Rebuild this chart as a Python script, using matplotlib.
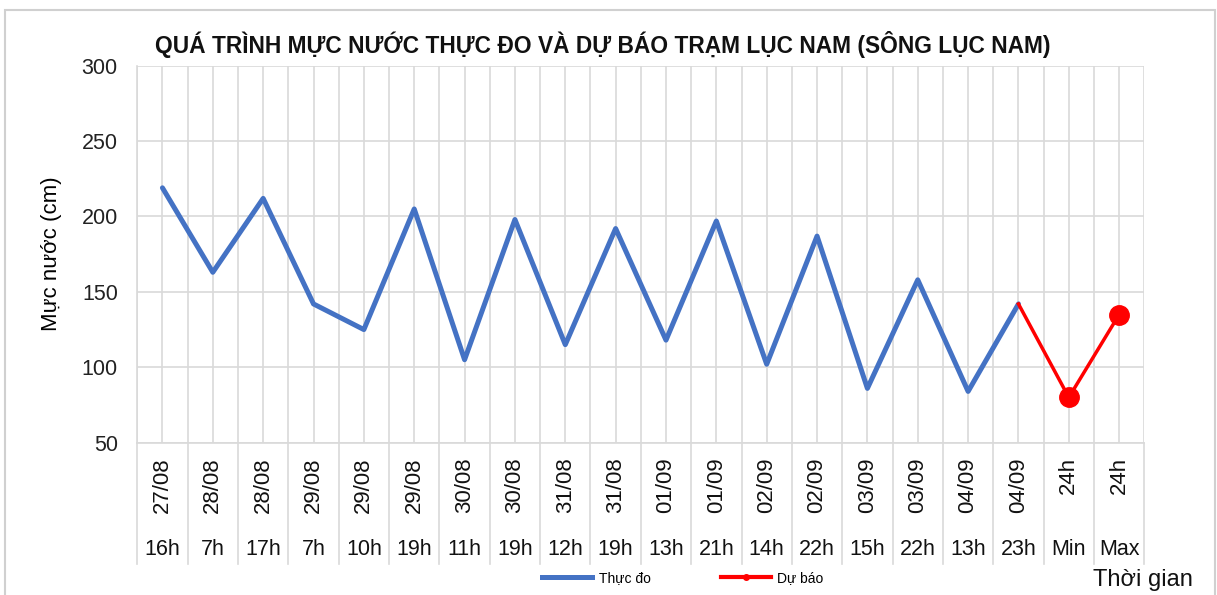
import matplotlib.pyplot as plt
from matplotlib.lines import Line2D
from matplotlib.patches import Rectangle
import numpy as np

# ---- data ----
dates = ["27/08", "28/08", "28/08", "29/08", "29/08", "29/08", "30/08", "30/08",
         "31/08", "31/08", "01/09", "01/09", "02/09", "02/09", "03/09", "03/09",
         "04/09", "04/09", "24h", "24h"]
hours = ["16h", "7h", "17h", "7h", "10h", "19h", "11h", "19h", "12h", "19h",
         "13h", "21h", "14h", "22h", "15h", "22h", "13h", "23h", "Min", "Max"]
observed = [219, 163, 212, 142, 125, 205, 105, 198, 115, 192,
            118, 197, 102, 187, 86, 158, 84, 142]
forecast = [142, 80, 135]          # from 04/09 23h, then Min, Max

BLUE = "#4472C4"
RED = "#FF0000"
GRID = "#d9d9d9"
FONT = ["Liberation Sans", "DejaVu Sans"]

plt.rcParams["font.family"] = FONT

fig = plt.figure(figsize=(12.17, 5.95), dpi=100)
ax = fig.add_axes([0.1128, 0.2560, 0.8275, 0.6336])

# chart frame (grey border of the embedded chart)
fig.patches.append(Rectangle((5 / 1217, -0.05), 1210 / 1217, 1 - 10 / 595 + 0.05,
                             transform=fig.transFigure, fill=False,
                             edgecolor="#d0d0d0", lw=1.5))

n = len(hours)
x = np.arange(n)
ax.plot(x[:len(observed)], observed, color=BLUE, lw=3.6, solid_capstyle="round",
        solid_joinstyle="round", zorder=3)
xf = x[len(observed) - 1:len(observed) - 1 + len(forecast)]
ax.plot(xf, forecast, color=RED, lw=2.5, marker="o", markersize=14,
        markevery=[1, 2], zorder=4)

ax.set_xlim(-0.5, n - 0.5)
ax.set_ylim(50, 300)
ax.set_yticks(np.arange(50, 301, 50))
ax.set_xticks(x)
ax.set_xticks(np.arange(-0.5, n, 1.0), minor=True)
ax.grid(True, which="both", axis="x", color=GRID, lw=1.2)
ax.grid(True, which="major", axis="y", color=GRID, lw=1.2)
ax.set_axisbelow(True)
ax.tick_params(axis="x", which="both", length=0, labelbottom=False)
ax.tick_params(axis="y", length=0, labelsize=15.5, pad=14, colors="#222222")
for s in ["top", "right"]:
    ax.spines[s].set_visible(False)
for s in ["left", "bottom"]:
    ax.spines[s].set_color(GRID)
    ax.spines[s].set_linewidth(1.2)

# two-level category labels below the axis
trans = ax.get_xaxis_transform()
for b in np.arange(-0.5, n, 1.0):
    ax.plot([b, b], [0, -0.321], transform=trans, color=GRID, lw=1.2, clip_on=False)
for i in range(n):
    ax.text(i, -0.038, dates[i], transform=trans, rotation=90, ha="center",
            va="top", fontsize=16, color="#111111")
    ax.text(i, -0.284, hours[i], transform=trans, ha="center", va="center",
            fontsize=15.5, color="#111111")

ax.set_ylabel("Mực nước (cm)", fontsize=16)
ax.yaxis.set_label_coords(-0.075, 0.5)

fig.text(0.495, 1 - 45 / 595, "QUÁ TRÌNH MỰC NƯỚC THỰC ĐO VÀ DỰ BÁO TRẠM LỤC NAM (SÔNG LỤC NAM)",
         ha="center", va="center", fontsize=16.4, fontweight="bold", color="#111111")
fig.text(1143 / 1217, 1 - 580 / 595, "Thời gian", ha="center", va="center",
         fontsize=17, color="#111111")

handles = [Line2D([], [], color=BLUE, lw=3.6),
           Line2D([], [], color=RED, lw=3.0, marker="o", markersize=4)]
fig.legend(handles, ["Thực đo", "Dự báo"], loc="center",
           bbox_to_anchor=(683 / 1217, 1 - 578 / 595), ncol=2, frameon=False,
           fontsize=10, handlelength=3.6, columnspacing=5.0, handletextpad=0.5)

fig.savefig("out.png", dpi=100)
